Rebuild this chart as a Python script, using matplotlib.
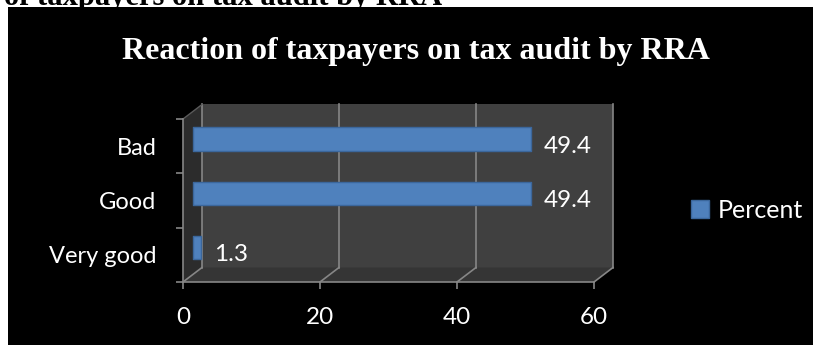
import matplotlib
matplotlib.use('Agg')
import matplotlib.pyplot as plt
import matplotlib.transforms as mtransforms
from matplotlib.patches import Polygon, Rectangle, Patch

# ---------------- data ----------------
categories = ['Very good', 'Good', 'Bad']
percent = [1.3, 49.4, 49.4]
xticks = [0, 20, 40, 60]
series_name = 'Percent'
title = 'Reaction of taxpayers on tax audit by RRA'
caption = 'of taxpayers on tax audit by RRA'

# ---------------- style ----------------
DPI = 100
W, H = 813, 345
DX, DY = 19.0, 14.5          # depth of the fake 3d box, pixels
bar_col = '#4f81bd'
grid_col = '#868686'
ui_font = 'Lato'
serif = 'Liberation Serif'

fig = plt.figure(figsize=(W / DPI, H / DPI), dpi=DPI)
fig.patch.set_facecolor('white')

# black chart area (the doc page is white above / left of it)
fig.add_artist(Rectangle((8 / W, 0), 1, 1 - 7 / H, transform=fig.transFigure,
                         facecolor='black', edgecolor='none', zorder=-1))
# cropped caption of the document above the chart
fig.text(442 / W, 1 - 5 / H, caption, ha='right', va='baseline', fontsize=22,
         family=serif, weight='bold', color='black', zorder=-2)

ax = fig.add_axes([183 / W, 63 / H, 411 / W, 163 / H])
ax.set_facecolor('none')
ax.set_xlim(0, 60)
ax.set_ylim(-0.5, len(categories) - 0.5)

back = ax.transData + mtransforms.ScaledTranslation(DX / DPI, DY / DPI, fig.dpi_scale_trans)
mid = ax.transData + mtransforms.ScaledTranslation(DX / 2 / DPI, DY / 2 / DPI, fig.dpi_scale_trans)
ident = mtransforms.IdentityTransform()


def pt(x, y, d=0.0):
    px, py = ax.transData.transform((x, y))
    return (px + d * DX, py + d * DY)


y0, y1 = -0.5, len(categories) - 0.5
x0, x1 = xticks[0], xticks[-1]

# walls
ax.add_patch(Rectangle((x0, y0), x1 - x0, y1 - y0, transform=back,
                       facecolor='#404040', edgecolor='none', zorder=0, clip_on=False))
ax.add_patch(Polygon([pt(x0, y0), pt(x1, y0), pt(x1, y0, 1), pt(x0, y0, 1)],
                     closed=True, transform=ident, facecolor='#353535',
                     edgecolor='none', zorder=0.2, clip_on=False))
ax.add_patch(Polygon([pt(x0, y0), pt(x0, y1), pt(x0, y1, 1), pt(x0, y0, 1)],
                     closed=True, transform=ident, facecolor='#2c2c2c',
                     edgecolor='none', zorder=0.2, clip_on=False))

# gridlines on the back wall + floor diagonals
for xt in xticks:
    ax.plot([xt, xt], [y0, y1], transform=back, color=grid_col, lw=1.2,
            zorder=0.5, clip_on=False)
    a, b = pt(xt, y0), pt(xt, y0, 1)
    ax.plot([a[0], b[0]], [a[1], b[1]], transform=ident, color=grid_col,
            lw=1.2, zorder=0.5, clip_on=False)
a, b = pt(x0, y1), pt(x0, y1, 1)
ax.plot([a[0], b[0]], [a[1], b[1]], transform=ident, color='#5a5a5a',
        lw=1, zorder=0.5, clip_on=False)

# bars, sitting half way into the box
ypos = list(range(len(categories)))
bars = ax.barh(ypos, percent, height=0.43, color=bar_col, edgecolor='#3b679c',
               linewidth=1, transform=mid, zorder=2, clip_on=False)
for r in bars:
    r.set_joinstyle('round')

for yi, v in zip(ypos, percent):
    ax.annotate(f'{v}', (v, yi), xytext=(16, 0), textcoords='offset points',
                va='center', ha='left', color='white', fontsize=17.5,
                family=ui_font, zorder=3)

# axes, ticks
for s in ['top', 'right']:
    ax.spines[s].set_visible(False)
for s in ['left', 'bottom']:
    ax.spines[s].set_color(grid_col)
    ax.spines[s].set_linewidth(1.2)

ax.set_xticks(xticks)
ax.set_xticklabels([str(t) for t in xticks])
ax.tick_params(axis='x', colors=grid_col, length=5, width=1.2, pad=13,
               labelcolor='white', labelsize=17.5)
ax.set_yticks([y0 + k for k in range(len(categories) + 1)])
ax.set_yticklabels([])
ax.tick_params(axis='y', colors=grid_col, length=5, width=1.2)
ax.set_yticks(ypos, minor=True)
ax.set_yticklabels(categories, minor=True)
ax.tick_params(axis='y', which='minor', length=0, pad=19, labelcolor='white',
               labelsize=17)
for lab in ax.get_xticklabels() + ax.get_yticklabels(minor=True):
    lab.set_family(ui_font)

fig.text(416 / W, 1 - 59 / H, title, ha='center', va='baseline', fontsize=23,
         family=serif, weight='bold', color='white')

fig.legend(handles=[Patch(facecolor=bar_col, edgecolor='#3b679c', label=series_name)],
           loc='center left', bbox_to_anchor=(691 / W, 1 - 210 / H),
           frameon=False, borderpad=0, borderaxespad=0, handlelength=0.7,
           handleheight=0.7, handletextpad=0.35,
           prop={'family': ui_font, 'size': 18}, labelcolor='white')

fig.savefig('out.png', dpi=DPI, facecolor=fig.get_facecolor())
